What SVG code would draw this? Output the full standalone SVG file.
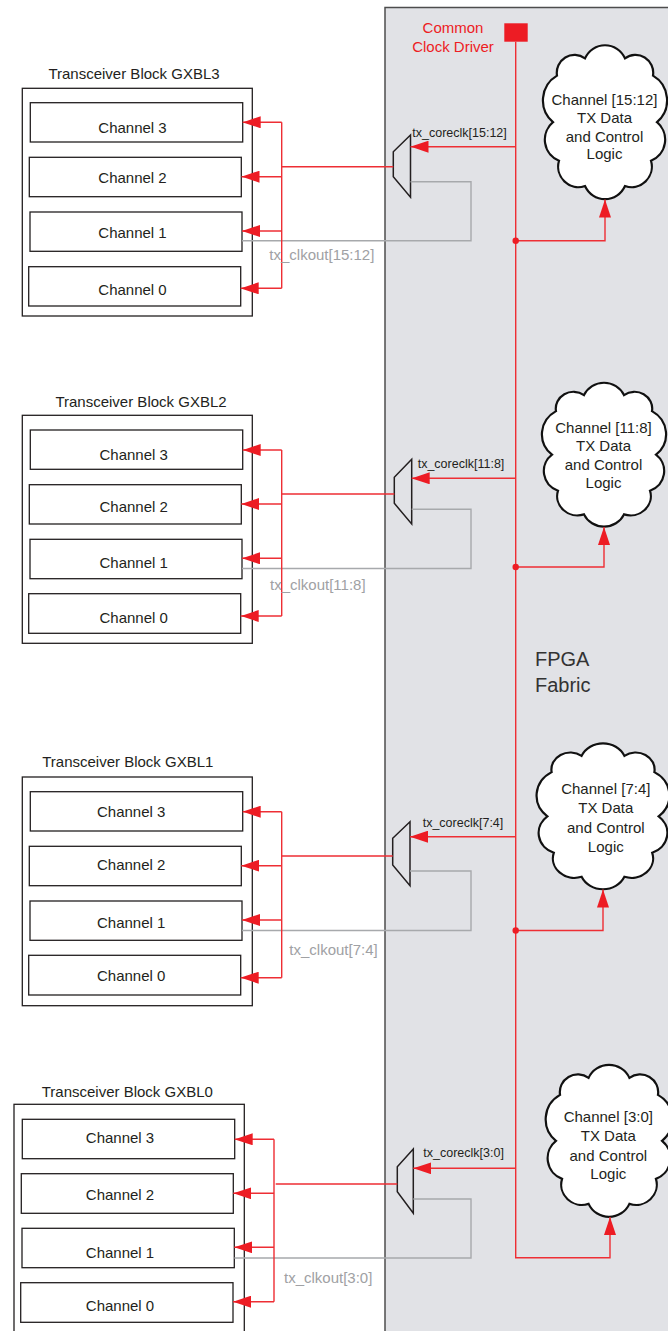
<svg xmlns="http://www.w3.org/2000/svg" width="668" height="1331" viewBox="0 0 668 1331">
<style>
.t{font-family:"Liberation Sans",Arial,sans-serif;fill:#231f20}
.m{text-anchor:middle;font-size:15px}
.ck{font-size:12.5px}
.co{font-size:15px;fill:#a0a1a4}
.rt{font-size:15px;fill:#ed1c24;text-anchor:middle}
.fab{font-size:20px;fill:#333}
.box{fill:#fff;stroke:#231f20;stroke-width:1.3}
.mux{fill:none;stroke:#231f20;stroke-width:1.5}
.red{fill:none;stroke:#ee2e34;stroke-width:1.4}
.gray{fill:none;stroke:#a7a9ac;stroke-width:1.4}
.arr{marker-end:url(#ah)}
.cloud{fill:#fff;stroke:#111;stroke-width:2.2}
</style>
<defs>
<marker id="ah" viewBox="0 0 18 12" refX="18" refY="6" markerWidth="18" markerHeight="12" markerUnits="userSpaceOnUse" orient="auto"><path d="M0,0 L18,6 L0,12 z" fill="#ed1c24"/></marker>
<path id="cloudShape" vector-effect="non-scaling-stroke" d="M-20,-63 A21.9,21.9 0 0 1 20,-63 A17.7,17.7 0 0 1 48,-46 A28.2,28.2 0 0 1 52,0 A22.3,22.3 0 0 1 46,38 A20.3,20.3 0 0 1 20,63 A21.9,21.9 0 0 1 -20,63 A20.3,20.3 0 0 1 -46,38 A22.3,22.3 0 0 1 -52,0 A28.2,28.2 0 0 1 -48,-46 A17.7,17.7 0 0 1 -20,-63 Z"/>
</defs>
<rect width="668" height="1331" fill="#fff"/>

<g id="fpga">
<rect x="385" y="7.5" width="300" height="1340" fill="#e1e2e6" stroke="#4d4d4d" stroke-width="1.5"/>
<text class="t fab" x="535" y="666">FPGA</text>
<text class="t fab" x="535" y="691.7">Fabric</text>
</g>

<g id="clock_driver">
<rect x="504.3" y="23.3" width="23.4" height="18.4" fill="#ed1c24"/>
<text class="t rt" x="453" y="33.3">Common</text>
<text class="t rt" x="453" y="51.7">Clock Driver</text>
</g>

<g id="gxbl3">
<text class="t m" x="134" y="79">Transceiver Block GXBL3</text>
<rect class="box" x="22.3" y="88.3" width="230" height="227.7"/>
<rect class="box" x="30.3" y="102.7" width="212.4" height="39.3"/>
<rect class="box" x="29.3" y="157.3" width="212" height="39.4"/>
<rect class="box" x="30" y="212" width="212" height="39.3"/>
<rect class="box" x="28.7" y="266.7" width="212" height="39.3"/>
<text class="t m" x="132.5" y="132.7">Channel 3</text>
<text class="t m" x="132.5" y="183.3">Channel 2</text>
<text class="t m" x="132.5" y="237.7">Channel 1</text>
<text class="t m" x="132.5" y="295">Channel 0</text>
</g>

<g id="gxbl2">
<text class="t m" x="141" y="406.7">Transceiver Block GXBL2</text>
<rect class="box" x="22.3" y="415.3" width="230" height="228"/>
<rect class="box" x="30.3" y="430" width="212.4" height="39.3"/>
<rect class="box" x="29.3" y="484.7" width="212" height="39.3"/>
<rect class="box" x="30" y="539.3" width="212" height="39.4"/>
<rect class="box" x="28.7" y="593.7" width="212" height="39.6"/>
<text class="t m" x="133.7" y="460">Channel 3</text>
<text class="t m" x="133.7" y="511.7">Channel 2</text>
<text class="t m" x="133.7" y="568.3">Channel 1</text>
<text class="t m" x="133.7" y="622.7">Channel 0</text>
</g>

<g id="gxbl1">
<text class="t m" x="127.8" y="767.3">Transceiver Block GXBL1</text>
<rect class="box" x="22.3" y="777" width="230" height="228.7"/>
<rect class="box" x="30.3" y="791.7" width="212.4" height="39.3"/>
<rect class="box" x="29.3" y="846.3" width="212" height="39.4"/>
<rect class="box" x="30" y="901" width="212" height="39.3"/>
<rect class="box" x="28.7" y="955.3" width="212" height="39.7"/>
<text class="t m" x="131.2" y="817.3">Channel 3</text>
<text class="t m" x="131.2" y="870">Channel 2</text>
<text class="t m" x="131.2" y="927.7">Channel 1</text>
<text class="t m" x="131.2" y="980.7">Channel 0</text>
</g>

<g id="gxbl0">
<text class="t m" x="127.3" y="1097.3">Transceiver Block GXBL0</text>
<rect class="box" x="14" y="1104.3" width="230.3" height="240"/>
<rect class="box" x="22.3" y="1119.3" width="212.4" height="39.4"/>
<rect class="box" x="21.3" y="1173.7" width="212" height="39.6"/>
<rect class="box" x="22" y="1228.3" width="212.3" height="39.4"/>
<rect class="box" x="20.7" y="1282.7" width="212.3" height="39.6"/>
<text class="t m" x="120" y="1142.7">Channel 3</text>
<text class="t m" x="120" y="1200">Channel 2</text>
<text class="t m" x="120" y="1257.7">Channel 1</text>
<text class="t m" x="120" y="1311">Channel 0</text>
</g>

<g id="mux3"><polygon class="mux" points="410.5,135 393.3,151.7 393.3,176.7 410.5,197.3"/></g>
<g id="mux2"><polygon class="mux" points="411.7,459.3 394.3,477.3 394.3,503.3 411.7,524"/></g>
<g id="mux1"><polygon class="mux" points="410,821.7 392.7,838.3 392.7,865 410,885.7"/></g>
<g id="mux0"><polygon class="mux" points="413.3,1149 397.3,1166.7 397.3,1191.7 413.3,1213.3"/></g>

<g id="cloud3">
<use href="#cloudShape" class="cloud" transform="translate(605,122.2) scale(1,1.013)"/>
<text class="t m" x="604.5" y="105">Channel [15:12]</text>
<text class="t m" x="604.5" y="123.3">TX Data</text>
<text class="t m" x="604.5" y="141.7">and Control</text>
<text class="t m" x="604.5" y="159.3">Logic</text>
</g>
<g id="cloud2">
<use href="#cloudShape" class="cloud" transform="translate(604,454.7) scale(1,0.947)"/>
<text class="t m" x="603.5" y="432.7">Channel [11:8]</text>
<text class="t m" x="603.5" y="450.7">TX Data</text>
<text class="t m" x="603.5" y="470">and Control</text>
<text class="t m" x="603.5" y="488.3">Logic</text>
</g>
<g id="cloud1">
<use href="#cloudShape" class="cloud" transform="translate(603,816.3) scale(1.07,0.96)"/>
<text class="t m" x="605.8" y="794.3">Channel [7:4]</text>
<text class="t m" x="605.8" y="813.3">TX Data</text>
<text class="t m" x="605.8" y="833.3">and Control</text>
<text class="t m" x="605.8" y="851.7">Logic</text>
</g>
<g id="cloud0">
<use href="#cloudShape" class="cloud" transform="translate(609,1140.85) scale(1.02,1)"/>
<text class="t m" x="608.3" y="1121.7">Channel [3:0]</text>
<text class="t m" x="608.3" y="1140.7">TX Data</text>
<text class="t m" x="608.3" y="1160.7">and Control</text>
<text class="t m" x="608.3" y="1179.3">Logic</text>
</g>

<g id="connectors">
<path class="red" d="M515.7,41.7 V1257.7 H610 V1217" marker-end="url(#ah)"/>
<path class="gray" d="M410.5,181.7 H471 V240.7 H242"/>
<path class="red" d="M393.3,166.7 H281.7 M281.7,122.3 V288.3"/>
<path class="red arr" d="M281.7,122.3 H242.7"/>
<path class="red arr" d="M281.7,176.7 H241.5"/>
<path class="red arr" d="M281.7,231 H242"/>
<path class="red arr" d="M281.7,288.3 H240.7"/>
<path class="red arr" d="M515.7,146.7 H410.5"/>
<path class="red arr" d="M515.7,240.7 H605 V199.5"/>
<circle cx="515.7" cy="240.7" r="3.2" fill="#ed1c24"/>
<path class="gray" d="M411.7,509.3 H471 V568.5 H242"/>
<path class="red" d="M394.3,494 H281.7 M281.7,450 V616"/>
<path class="red arr" d="M281.7,450 H242.7"/>
<path class="red arr" d="M281.7,504 H241.3"/>
<path class="red arr" d="M281.7,558.3 H242"/>
<path class="red arr" d="M281.7,616 H240.7"/>
<path class="red arr" d="M515.7,478.3 H411.7"/>
<path class="red arr" d="M515.7,567 H604 V527"/>
<circle cx="515.7" cy="567" r="3.2" fill="#ed1c24"/>
<path class="gray" d="M410,871 H471 V930.5 H242"/>
<path class="red" d="M392.7,856 H281.7 M281.7,811.7 V977.7"/>
<path class="red arr" d="M281.7,811.7 H242.7"/>
<path class="red arr" d="M281.7,865.7 H241.3"/>
<path class="red arr" d="M281.7,920 H242"/>
<path class="red arr" d="M281.7,977.7 H240.7"/>
<path class="red arr" d="M515.7,836.7 H410"/>
<path class="red arr" d="M515.7,930.5 H603 V889.5"/>
<circle cx="515.7" cy="930.5" r="3.2" fill="#ed1c24"/>
<path class="gray" d="M413.3,1199 H471 V1258 H234.3"/>
<path class="red" d="M397.3,1184 H275.7 M274,1139.3 V1301.7"/>
<path class="red arr" d="M274,1139.3 H234.7"/>
<path class="red arr" d="M274,1193.3 H233.3"/>
<path class="red arr" d="M274,1247.3 H234.3"/>
<path class="red arr" d="M274,1301.7 H233"/>
<path class="red arr" d="M515.7,1168.3 H413.3"/>
</g>

<g id="labels">
<text class="t ck" x="412.3" y="136.7">tx_coreclk[15:12]</text>
<text class="t ck" x="417.7" y="468.3">tx_coreclk[11:8]</text>
<text class="t ck" x="422.7" y="826.7">tx_coreclk[7:4]</text>
<text class="t ck" x="423.3" y="1157.3">tx_coreclk[3:0]</text>
<text class="t co" x="269.3" y="259.5">tx_clkout[15:12]</text>
<text class="t co" x="270" y="590">tx_clkout[11:8]</text>
<text class="t co" x="289.3" y="955">tx_clkout[7:4]</text>
<text class="t co" x="284" y="1283.3">tx_clkout[3:0]</text>
</g>
</svg>
